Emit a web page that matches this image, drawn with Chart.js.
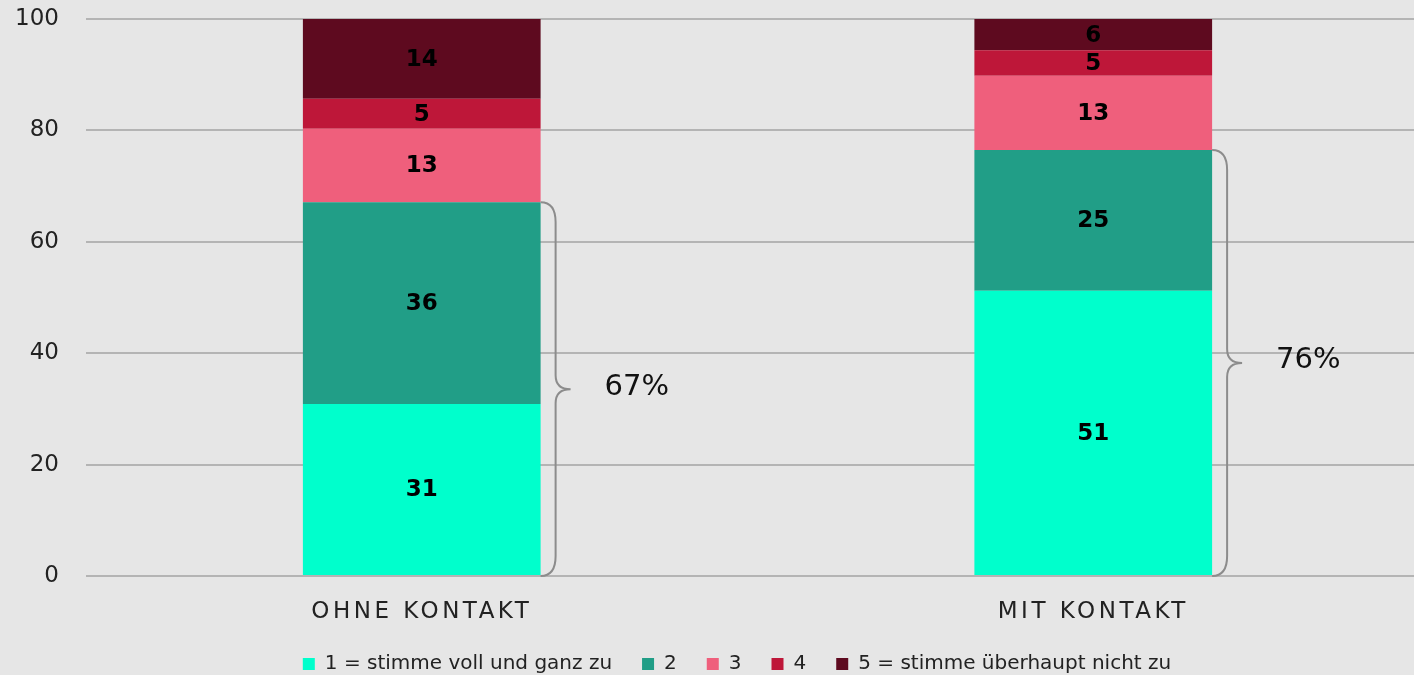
<!DOCTYPE html>
<html>
<head>
<meta charset="utf-8">
<script src="https://cdn.jsdelivr.net/npm/chart.js@4.4.1/dist/chart.umd.min.js"></script>
<style>
  html, body { margin: 0; padding: 0; background: #e6e6e6; overflow: hidden; }
  #wrap { width: 1429px; height: 675px; }
</style>
</head>
<body>
<div id="wrap"><canvas id="chart" width="1429" height="675"></canvas></div>
<script>
// Kategorien und Werte (Prozent)
const categories = ['OHNE KONTAKT', 'MIT KONTAKT'];
const seriesNames = ['1 = stimme voll und ganz zu', '2', '3', '4', '5 = stimme überhaupt nicht zu'];
const val1 = [30.9, 51.2];
const val2 = [36.2, 25.3];
const val3 = [13.2, 13.3];
const val4 = [5.4, 4.6];
const val5 = [14.3, 5.6];
const agreeLabels = ['67%', '76%'];
const yTicks = [0, 20, 40, 60, 80, 100];

const colors = ['#00ffcc', '#219e87', '#ef5f7c', '#be1739', '#5e0a1f'];
const FONT = "'DejaVu Sans', sans-serif";

// Kategorienbeschriftung gesperrt (das Original nutzt eine breite Schrift)
const spacing = {
  id: 'spacing',
  afterLayout(chart) {
    const x = chart.scales.x;
    if (x && !x._spaced) {
      const orig = x.drawLabels.bind(x);
      x.drawLabels = function (area) {
        chart.ctx.letterSpacing = '3.5px';
        orig(area);
        chart.ctx.letterSpacing = '0px';
      };
      x._spaced = true;
    }
  }
};

// Werte in die Segmente schreiben
const segmentLabels = {
  id: 'segmentLabels',
  afterDatasetsDraw(chart) {
    const ctx = chart.ctx;
    ctx.save();
    ctx.font = 'bold 23px ' + FONT;
    ctx.fillStyle = '#000';
    ctx.textAlign = 'center';
    ctx.textBaseline = 'middle';
    chart.data.datasets.forEach((ds, di) => {
      chart.getDatasetMeta(di).data.forEach((bar, i) => {
        const y = (bar.y + bar.base) / 2;
        ctx.fillText(Math.round(ds.data[i]), bar.x, y + 1);
      });
    });
    ctx.restore();
  }
};

// geschweifte Klammer fuer 1+2
const braces = {
  id: 'braces',
  afterDatasetsDraw(chart) {
    const ctx = chart.ctx;
    const yScale = chart.scales.y;
    const meta = chart.getDatasetMeta(0);
    ctx.save();
    ctx.strokeStyle = '#8c8c8c';
    ctx.lineWidth = 2;
    meta.data.forEach((bar, i) => {
      const xr = bar.x + bar.width / 2;
      const top = yScale.getPixelForValue(val1[i] + val2[i]);
      const bottom = yScale.getPixelForValue(0);
      const mid = (top + bottom) / 2;
      const xv = xr + 15, tip = xr + 30, r = 20;
      ctx.beginPath();
      ctx.moveTo(xr, top);
      ctx.quadraticCurveTo(xv, top, xv, top + r);
      ctx.lineTo(xv, mid - 14);
      ctx.quadraticCurveTo(xv, mid, tip, mid);
      ctx.quadraticCurveTo(xv, mid, xv, mid + 14);
      ctx.lineTo(xv, bottom - r);
      ctx.quadraticCurveTo(xv, bottom, xr, bottom);
      ctx.stroke();

      ctx.font = '29px ' + FONT;
      ctx.fillStyle = '#111';
      ctx.textAlign = 'left';
      ctx.textBaseline = 'middle';
      ctx.fillText(agreeLabels[i], tip + 34, mid - 2);
    });
    ctx.restore();
  }
};

// Legende: feste Hoehe, dann an die Stelle des Originals schieben
const legendPlace = {
  id: 'legendPlace',
  beforeLayout(chart) {
    const lg = chart.legend;
    if (lg && !lg._fixed) {
      const fit = lg.fit.bind(lg);
      lg.fit = function () { fit(); this.height = 39; };
      lg._fixed = true;
    }
  },
  afterLayout(chart) {
    const lg = chart.legend;
    if (!lg) return;
    const dx = 737 - (lg.left + lg.right) / 2;
    lg.left += dx; lg.right += dx;
    lg.top = 624; lg.bottom = 675;
  }
};

const makeSet = (label, data, color) => ({
  label, data,
  backgroundColor: color,
  borderWidth: 0,
  barPercentage: 0.354,
  categoryPercentage: 1
});

new Chart(document.getElementById('chart').getContext('2d'), {
  type: 'bar',
  data: {
    labels: categories,
    datasets: [
      makeSet(seriesNames[0], val1, colors[0]),
      makeSet(seriesNames[1], val2, colors[1]),
      makeSet(seriesNames[2], val3, colors[2]),
      makeSet(seriesNames[3], val4, colors[3]),
      makeSet(seriesNames[4], val5, colors[4])
    ]
  },
  options: {
    responsive: false,
    animation: false,
    layout: { padding: 0 },
    plugins: {
      legend: {
        position: 'bottom',
        labels: {
          color: '#222',
          font: { family: FONT, size: 20 },
          boxWidth: 12,
          boxHeight: 12,
          padding: 30
        }
      },
      tooltip: { enabled: false }
    },
    scales: {
      x: {
        stacked: true,
        grid: { display: false },
        border: { display: false },
        ticks: { color: '#222', font: { family: FONT, size: 23 }, padding: 14 },
        afterFit(scale) { scale.height = 60; }
      },
      y: {
        stacked: true,
        min: 0,
        max: 100,
        afterBuildTicks(scale) {
          scale.ticks = yTicks.map(v => ({ value: v }));
        },
        afterFit(scale) {
          scale.width = 86;
          scale.paddingTop = 19;
        },
        grid: { color: '#b4b4b4', lineWidth: 2, drawTicks: false },
        border: { display: false },
        ticks: { color: '#222', font: { family: FONT, size: 23 }, padding: 27 }
      }
    }
  },
  plugins: [spacing, segmentLabels, braces, legendPlace]
});
</script>
</body>
</html>
